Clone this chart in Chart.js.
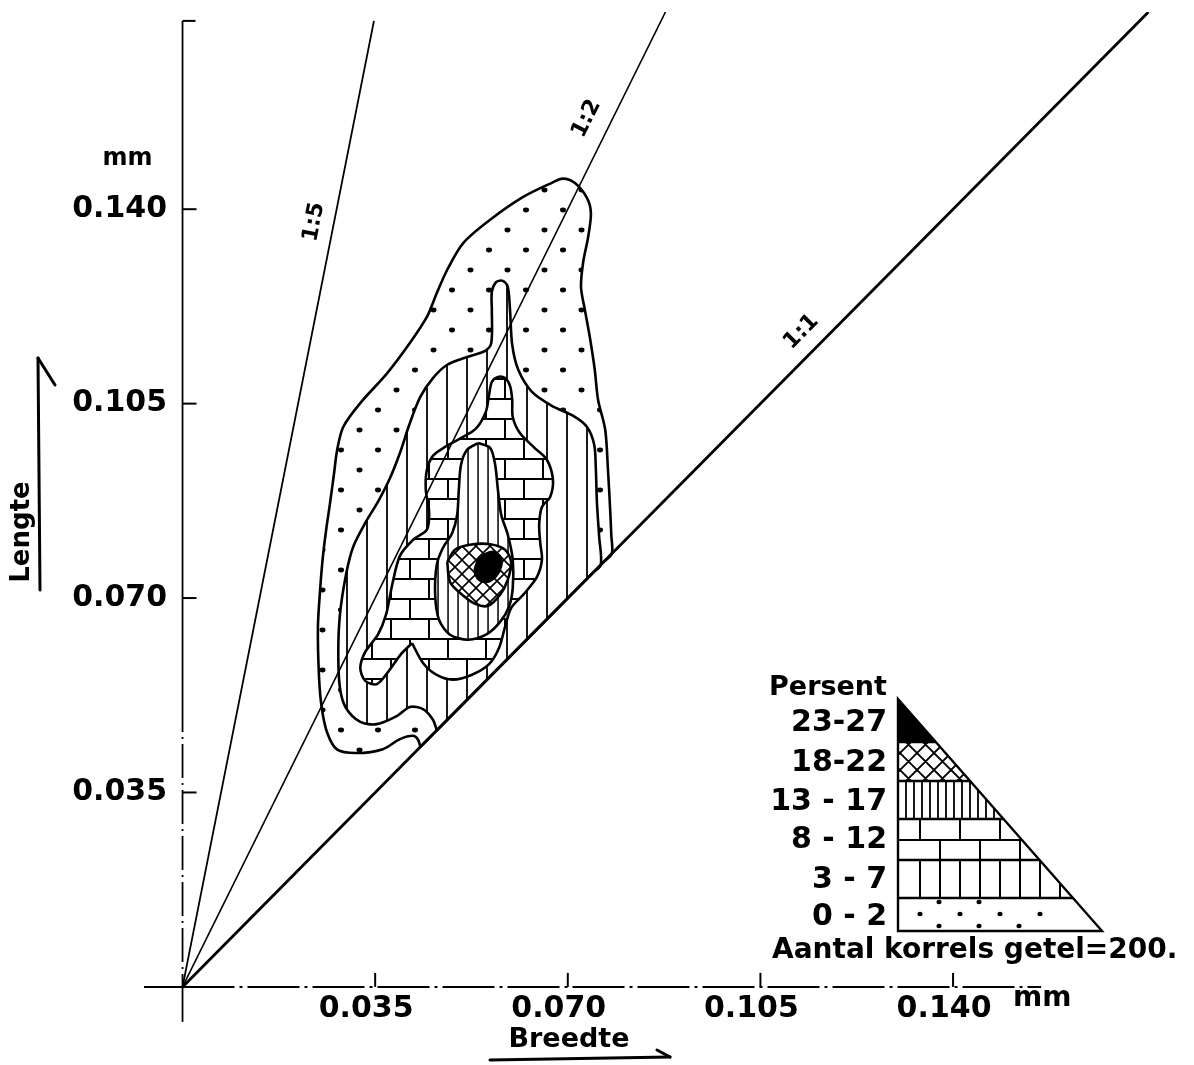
<!DOCTYPE html>
<html>
<head>
<meta charset="utf-8">
<title>Lengte / Breedte</title>
<script src="https://cdn.jsdelivr.net/npm/chart.js@4.4.1/dist/chart.umd.min.js"></script>
<style>
  html, body { margin: 0; padding: 0; background: #ffffff; }
  canvas { display: block; }
</style>
</head>
<body>
<canvas id="grains" width="1194" height="1065"></canvas>
<script>
// ---- tick values and labels (mm) ----
const xTickValues = [0.035, 0.070, 0.105, 0.140];
const xTickLabels = ['0.035', '0.070', '0.105', '0.140'];
const yTickValues = [0.035, 0.070, 0.105, 0.140];
const yTickLabels = ['0.035', '0.070', '0.105', '0.140'];

// ---- ratio lines length : width ----
const rayRatios = [5, 2, 1];
const rayLabels = ['1:5', '1:2', '1:1'];

// ---- percentage classes ----
const classLabels = ['0 - 2', '3 - 7', '8 - 12', '13 - 17', '18-22', '23-27'];
const keyTitle = 'Persent';
const grainCount = 'Aantal korrels getel=200.';

// ---- contour outlines, [breedte, lengte] in mm ----
const band0to2 = [
  [0.0432,0.0432],[0.0428,0.0445],[0.0419,0.0452],[0.0395,0.0446],[0.0364,0.0428],
  [0.0317,0.0421],[0.0281,0.0427],[0.0263,0.0457],[0.0253,0.0502],[0.0248,0.0558],
  [0.0246,0.0648],[0.0250,0.0715],[0.0255,0.0774],[0.0261,0.0823],[0.0268,0.0871],
  [0.0275,0.0922],[0.0281,0.0967],[0.0292,0.1008],[0.0323,0.1051],[0.0372,0.1105],
  [0.0413,0.1159],[0.0444,0.1206],[0.0462,0.1249],[0.0481,0.1291],[0.0510,0.1339],
  [0.0559,0.1381],[0.0619,0.1422],[0.0670,0.1447],[0.0691,0.1455],[0.0713,0.1447],
  [0.0735,0.1420],[0.0742,0.1393],[0.0737,0.1350],[0.0728,0.1305],[0.0724,0.1260],
  [0.0731,0.1219],[0.0740,0.1170],[0.0749,0.1111],[0.0755,0.1057],[0.0768,0.1003],
  [0.0773,0.0931],[0.0777,0.0859],[0.0779,0.0814],[0.0780,0.0780],[0.0765,0.0765],
  [0.0447,0.0447]
];
const band3to7 = [
  [0.0462,0.0462],[0.0455,0.0481],[0.0437,0.0500],[0.0413,0.0504],[0.0390,0.0488],
  [0.0353,0.0473],[0.0323,0.0477],[0.0297,0.0502],[0.0286,0.0538],[0.0283,0.0601],
  [0.0286,0.0670],[0.0297,0.0742],[0.0310,0.0792],[0.0333,0.0837],[0.0355,0.0873],
  [0.0377,0.0916],[0.0395,0.0961],[0.0412,0.1012],[0.0432,0.1062],[0.0455,0.1096],
  [0.0481,0.1120],[0.0517,0.1134],[0.0550,0.1145],[0.0561,0.1159],[0.0562,0.1219],
  [0.0562,0.1251],[0.0570,0.1269],[0.0582,0.1271],[0.0591,0.1260],[0.0595,0.1219],
  [0.0599,0.1156],[0.0610,0.1111],[0.0635,0.1071],[0.0671,0.1046],[0.0710,0.1028],
  [0.0735,0.1008],[0.0748,0.0976],[0.0751,0.0931],[0.0753,0.0871],[0.0757,0.0810],
  [0.0760,0.0760],[0.0745,0.0745],[0.0477,0.0477]
];
const band8to12 = [
  [0.0417,0.0619],[0.0437,0.0583],[0.0461,0.0562],[0.0491,0.0553],[0.0526,0.0562],
  [0.0557,0.0581],[0.0575,0.0610],[0.0586,0.0648],[0.0597,0.0682],[0.0620,0.0707],
  [0.0644,0.0738],[0.0653,0.0769],[0.0650,0.0799],[0.0648,0.0832],[0.0653,0.0864],
  [0.0668,0.0882],[0.0673,0.0913],[0.0662,0.0949],[0.0640,0.0970],[0.0613,0.0997],
  [0.0600,0.1026],[0.0599,0.1057],[0.0595,0.1082],[0.0586,0.1096],[0.0573,0.1098],
  [0.0562,0.1089],[0.0557,0.1066],[0.0551,0.1035],[0.0533,0.1005],[0.0504,0.0987],
  [0.0477,0.0972],[0.0455,0.0956],[0.0444,0.0931],[0.0442,0.0895],[0.0448,0.0855],
  [0.0444,0.0823],[0.0419,0.0805],[0.0395,0.0776],[0.0381,0.0724],[0.0370,0.0671],
  [0.0355,0.0634],[0.0332,0.0603],[0.0323,0.0574],[0.0332,0.0551],[0.0353,0.0545],
  [0.0375,0.0569],[0.0397,0.0599]
];
const band13to17 = [
  [0.0537,0.0979],[0.0559,0.0970],[0.0568,0.0940],[0.0573,0.0895],[0.0579,0.0850],
  [0.0591,0.0814],[0.0600,0.0769],[0.0600,0.0718],[0.0593,0.0684],[0.0577,0.0657],
  [0.0553,0.0635],[0.0519,0.0625],[0.0486,0.0634],[0.0466,0.0661],[0.0459,0.0706],
  [0.0462,0.0760],[0.0473,0.0790],[0.0490,0.0817],[0.0499,0.0850],[0.0502,0.0895],
  [0.0506,0.0940],[0.0517,0.0967]
];
const band18to22 = [
  [0.0481,0.0765],[0.0495,0.0787],[0.0522,0.0796],[0.0559,0.0797],[0.0586,0.0787],
  [0.0597,0.0765],[0.0591,0.0733],[0.0577,0.0706],[0.0555,0.0686],[0.0533,0.0689],
  [0.0508,0.0706],[0.0486,0.0729]
];
const band23to27 = [
  [0.0537,0.0769],[0.0550,0.0779],[0.0566,0.0783],[0.0577,0.0774],[0.0579,0.0758],
  [0.0570,0.0740],[0.0553,0.0729],[0.0539,0.0733],[0.0531,0.0749]
];

// ---- drawing helpers ----
const FONT = '"DejaVu Sans", "Liberation Sans", sans-serif';

function tile(w, h, paint, dx, dy) {
  const c = document.createElement('canvas');
  c.width = w; c.height = h;
  const g = c.getContext('2d');
  g.fillStyle = '#fff'; g.fillRect(0, 0, w, h);
  g.fillStyle = '#000'; g.strokeStyle = '#000';
  paint(g, w, h);
  const p = g.createPattern(c, 'repeat');
  if (dx || dy) p.setTransform(new DOMMatrix().translateSelf(dx || 0, dy || 0));
  return p;
}

const fillDots = tile(37, 40, g => {
  g.beginPath(); g.ellipse(8, 10, 3, 2.4, 0, 0, Math.PI * 2); g.fill();
  g.beginPath(); g.ellipse(26.5, 30, 3, 2.4, 0, 0, Math.PI * 2); g.fill();
});
const fillSparse = tile(20, 8, g => { g.fillRect(6.1, 0, 1.8, 8); });
const fillBricks = tile(38, 40, g => {
  g.fillRect(0, 0, 38, 2); g.fillRect(0, 20, 38, 2);
  g.fillRect(0, 0, 2, 20); g.fillRect(19, 20, 2, 20);
}, 10, 18);
const fillDense = tile(10, 8, g => { g.fillRect(7.3, 0, 1.5, 8); });
const fillCross = tile(14, 14, g => {
  g.lineWidth = 1.6;
  g.beginPath();
  g.moveTo(-1, -1); g.lineTo(15, 15);
  g.moveTo(15, -1); g.lineTo(-1, 15);
  g.stroke();
});
const fillSolid = '#000';

const bands = [
  { label: classLabels[0], pts: band0to2,   fill: fillDots },
  { label: classLabels[1], pts: band3to7,   fill: fillSparse },
  { label: classLabels[2], pts: band8to12,  fill: fillBricks },
  { label: classLabels[3], pts: band13to17, fill: fillDense },
  { label: classLabels[4], pts: band18to22, fill: fillCross },
  { label: classLabels[5], pts: band23to27, fill: fillSolid }
];

const bandDatasets = bands.map((b, i) => ({
  label: b.label,
  data: b.pts.concat([b.pts[0]]).map(([x, y]) => ({ x, y })),
  showLine: true,
  pointRadius: 0,
  borderColor: '#000',
  borderWidth: 2.6,
  backgroundColor: b.fill,
  fill: 'shape',
  tension: 0.3,
  order: 20 - i
}));

const Y_TOP = 0.1755;
const rayWidths = [1.8, 1.6, 2.8];
const rayDatasets = rayRatios.map((r, i) => {
  const yEnd = r === 5 ? 0.1739 : Y_TOP;
  return {
    label: rayLabels[i],
    data: [{ x: 0, y: 0 }, { x: yEnd / r, y: yEnd }],
    showLine: true,
    pointRadius: 0,
    borderColor: '#000',
    borderWidth: rayWidths[i],
    fill: false,
    tension: 0,
    order: 3 - i
  };
});

function seg(ctx, x1, y1, x2, y2) {
  ctx.beginPath(); ctx.moveTo(x1, y1); ctx.lineTo(x2, y2); ctx.stroke();
}

// axis lines and inward tick marks, drawn at the zero lines
const axesPlugin = {
  id: 'axesAtZero',
  beforeDatasetsDraw(ch) {
    const { ctx } = ch;
    const xs = ch.scales.x, ys = ch.scales.y;
    const X0 = xs.getPixelForValue(0), Y0 = ys.getPixelForValue(0);
    ctx.save();
    ctx.strokeStyle = '#000';
    ctx.lineWidth = 2;
    seg(ctx, xs.getPixelForValue(-0.007), Y0, X0, Y0);
    ctx.setLineDash([52, 5, 3, 5]);
    seg(ctx, X0, Y0, xs.getPixelForValue(0.156), Y0);
    ctx.setLineDash([]);
    ctx.lineWidth = 1.8;
    const yTop = ys.getPixelForValue(0.1739);
    seg(ctx, X0, yTop, X0, ys.getPixelForValue(0.052));
    ctx.setLineDash([34, 5, 2, 5]);
    seg(ctx, X0, ys.getPixelForValue(0.052), X0, Y0);
    ctx.setLineDash([]);
    seg(ctx, X0, Y0, X0, ys.getPixelForValue(-0.0063));
    ctx.lineWidth = 2;
    xTickValues.forEach(v => { const p = xs.getPixelForValue(v); seg(ctx, p, Y0, p, Y0 - 14); });
    yTickValues.forEach(v => { const p = ys.getPixelForValue(v); seg(ctx, X0, p, X0 + 14, p); });
    seg(ctx, X0, yTop, X0 + 13, yTop);
    ctx.restore();
  }
};

// ratio labels, units, axis titles with arrows
const rayLabelAt = [0.1377, 0.1563, 0.1179];
const rayLabelShift = [-20, -26, -30];
const notesPlugin = {
  id: 'notes',
  afterDraw(ch) {
    const { ctx } = ch;
    const xs = ch.scales.x, ys = ch.scales.y;
    const X0 = xs.getPixelForValue(0), Y0 = ys.getPixelForValue(0);
    ctx.save();
    ctx.fillStyle = '#000'; ctx.strokeStyle = '#000';
    ctx.textAlign = 'center'; ctx.textBaseline = 'middle';

    // ratio labels along each line
    ctx.font = 'bold 22px ' + FONT;
    rayRatios.forEach((r, i) => {
      const yv = rayLabelAt[i];
      const px = xs.getPixelForValue(yv / r), py = ys.getPixelForValue(yv);
      const ang = Math.atan2(py - Y0, px - X0);
      ctx.save();
      ctx.translate(px + rayLabelShift[i], py);
      ctx.rotate(ang);
      ctx.fillText(rayLabels[i], 0, 0);
      ctx.restore();
    });

    // units
    ctx.font = 'bold 24px ' + FONT;
    ctx.fillText('mm', X0 - 55, ys.getPixelForValue(0.140) - 50);
    ctx.textAlign = 'left';
    ctx.font = 'bold 28px ' + FONT;
    ctx.fillText('mm', xs.getPixelForValue(0.140) + 60, Y0 + 12);

    // axis titles
    ctx.textAlign = 'center';
    ctx.font = 'bold 26px ' + FONT;
    ctx.save();
    ctx.translate(22, 532);
    ctx.rotate(-Math.PI / 2);
    ctx.fillText('Lengte', 0, 0);
    ctx.restore();
    ctx.font = 'bold 27px ' + FONT;
    ctx.fillText('Breedte', 569, 1040);

    ctx.lineWidth = 3; ctx.lineCap = 'round';
    seg(ctx, 40, 590, 38, 358);
    seg(ctx, 38, 358, 55, 385);
    seg(ctx, 490, 1060, 670, 1057);
    seg(ctx, 670, 1057, 657, 1050);
    ctx.restore();

    drawKey(ctx);
  }
};

function drawKey(ctx) {
  const L = 898, T = 699, B = 931, R = 1102;
  const rows = [699, 742, 781, 819, 860, 898, 931];
  const hx = y => L + (y - T) * (R - L) / (B - T);
  ctx.save();
  ctx.beginPath(); ctx.moveTo(L, T); ctx.lineTo(R, B); ctx.lineTo(L, B); ctx.closePath();
  ctx.save();
  ctx.clip();
  ctx.fillStyle = '#fff'; ctx.fillRect(L, T, R - L, B - T);
  ctx.fillStyle = '#000'; ctx.strokeStyle = '#000';
  ctx.fillRect(L, rows[0], R - L, rows[1] - rows[0]);
  ctx.lineWidth = 1.8;
  // crosshatch
  ctx.save();
  ctx.beginPath(); ctx.rect(L, rows[1], R - L, rows[2] - rows[1]); ctx.clip();
  ctx.beginPath();
  const h1 = rows[2] - rows[1];
  for (let k = -60; k < 220; k += 17) {
    ctx.moveTo(L + k, rows[1]); ctx.lineTo(L + k + h1, rows[2]);
    ctx.moveTo(L + k + h1, rows[1]); ctx.lineTo(L + k, rows[2]);
  }
  ctx.stroke();
  ctx.restore();
  // dense verticals
  ctx.beginPath();
  for (let x = L + 8; x < R; x += 8) { ctx.moveTo(x, rows[2]); ctx.lineTo(x, rows[3]); }
  ctx.stroke();
  // bricks
  ctx.lineWidth = 2;
  const mid = 840;
  ctx.beginPath();
  ctx.moveTo(L, mid); ctx.lineTo(R, mid);
  for (let x = 920; x < R; x += 40) { ctx.moveTo(x, rows[3]); ctx.lineTo(x, mid); }
  for (let x = 940; x < R; x += 40) { ctx.moveTo(x, mid); ctx.lineTo(x, rows[4]); }
  ctx.stroke();
  // sparse verticals
  ctx.beginPath();
  for (let x = L + 22; x < R; x += 20) { ctx.moveTo(x, rows[4]); ctx.lineTo(x, rows[5]); }
  ctx.stroke();
  // dots
  const dotRows = [[902, 939, 2], [914, 920, 4], [926, 939, 3]];
  dotRows.forEach(([y, x0, n]) => {
    for (let j = 0; j < n; j++) {
      ctx.beginPath(); ctx.ellipse(x0 + j * 40, y, 2.6, 2.2, 0, 0, Math.PI * 2); ctx.fill();
    }
  });
  ctx.restore();
  // separators and outline
  ctx.lineWidth = 2.4;
  ctx.beginPath();
  for (let i = 1; i < rows.length - 1; i++) { ctx.moveTo(L, rows[i]); ctx.lineTo(hx(rows[i]), rows[i]); }
  ctx.stroke();
  ctx.beginPath(); ctx.moveTo(L, T); ctx.lineTo(R, B); ctx.lineTo(L, B); ctx.closePath(); ctx.stroke();

  // labels
  ctx.fillStyle = '#000';
  ctx.textAlign = 'right'; ctx.textBaseline = 'middle';
  ctx.font = 'bold 27px ' + FONT;
  ctx.fillText(keyTitle, 887, 688);
  ctx.font = 'bold 30px ' + FONT;
  const rowCentres = [917, 880, 840, 802, 763, 723];
  classLabels.forEach((t, i) => ctx.fillText(t, 887, rowCentres[i]));
  ctx.textAlign = 'left';
  ctx.font = 'bold 28px ' + FONT;
  ctx.fillText(grainCount, 772, 951);
  ctx.restore();
}

// axes placed on the zero lines keep the plot area fixed
const noPadding = s => { s.paddingTop = 0; s.paddingBottom = 0; s.paddingLeft = 0; s.paddingRight = 0; };

new Chart(document.getElementById('grains'), {
  type: 'scatter',
  data: { datasets: bandDatasets.concat(rayDatasets) },
  options: {
    responsive: false,
    animation: false,
    devicePixelRatio: 1,
    events: [],
    layout: { padding: { left: 144, right: 34, top: 12, bottom: 42 } },
    plugins: { legend: { display: false }, tooltip: { enabled: false } },
    scales: {
      x: {
        type: 'linear', min: -0.007, max: 0.1776,
        position: { y: 0 },
        afterBuildTicks: s => { s.ticks = xTickValues.map(v => ({ value: v })); },
        afterFit: noPadding,
        grid: { display: false, drawTicks: false },
        border: { display: false },
        ticks: {
          callback: (v, i) => xTickLabels[i],
          font: { family: FONT, size: 30, weight: 'bold' },
          color: '#000', padding: 4, labelOffset: -9,
          maxRotation: 0, autoSkip: false
        }
      },
      y: {
        type: 'linear', min: -0.0065, max: Y_TOP,
        // labels sit just left of the vertical axis line
        position: { x: -0.0028 },
        afterBuildTicks: s => { s.ticks = yTickValues.map(v => ({ value: v })); },
        afterFit: noPadding,
        grid: { display: false, drawTicks: false },
        border: { display: false },
        ticks: {
          callback: (v, i) => yTickLabels[i],
          font: { family: FONT, size: 30, weight: 'bold' },
          color: '#000', padding: 0,
          autoSkip: false
        }
      }
    }
  },
  plugins: [axesPlugin, notesPlugin]
});
</script>
</body>
</html>
